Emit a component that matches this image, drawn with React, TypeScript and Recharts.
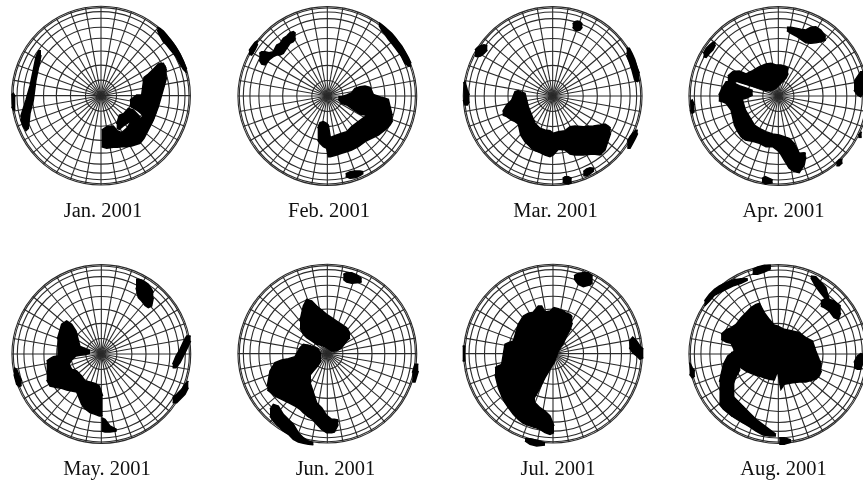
import React from 'react';
import { RadarChart, PolarGrid, ComposedChart, Area, XAxis, YAxis } from 'recharts';

type Sec = [number, number, number];

const panelLabels = ['Jan. 2001', 'Feb. 2001', 'Mar. 2001', 'Apr. 2001', 'May. 2001', 'Jun. 2001', 'Jul. 2001', 'Aug. 2001'];
const panelLeft = [0, 225, 450, 653, 0, 225, 450, 653];
const panelTop = [0, 0, 0, 0, 256, 256, 256, 256];
const gridCenterX = [303, 307, 308, 376, 304, 307, 309, 376];
const gridCenterY = [287, 288, 288, 288, 294, 293, 293, 294];
const labelCenterX = [103, 329, 555.5, 783.5, 107, 335.5, 558, 783.5];
const labelCenterY = [210, 210, 210, 210, 468, 468, 468, 468];
const latitudes = [10, 20, 30, 40, 50, 60, 70, 80, 90];
const meridians = [0, 10, 20, 30, 40, 50, 60, 70, 80, 90, 100, 110, 120, 130, 140, 150, 160, 170, 180, 190, 200, 210, 220, 230, 240, 250, 260, 270, 280, 290, 300, 310, 320, 330, 340, 350];

const jan: Sec[][] = [
  [[62, 350, 358], [70, 325, 380], [78, 300, 392], [85, 275, 385], [90, 258, 340], [100, 210, 300], [108, 170, 240], [116, 152, 200], [123, 152, 165]],
  [[35, 285, 320], [40, 280, 330], [46, 290, 330]],
  [[472, 82, 90], [480, 85, 108], [490, 93, 125], [500, 105, 135], [510, 118, 148], [520, 130, 160], [530, 145, 172], [540, 162, 192], [550, 183, 208], [560, 208, 218]],
  [[305, 390, 440], [320, 380, 445], [340, 378, 442], [352, 392, 442], [365, 398, 440], [380, 385, 440], [395, 362, 438], [420, 358, 430], [432, 345, 415], [445, 300, 390], [460, 270, 360], [475, 240, 320], [485, 220, 285], [495, 200, 250], [500, 212, 232]],
  [[350, 372, 385], [358, 345, 388], [370, 342, 378], [385, 325, 368], [400, 330, 362], [420, 350, 372]],
  [[390, 300, 318], [410, 285, 330], [425, 285, 342], [432, 232, 350], [445, 222, 350], [460, 208, 330], [475, 192, 300], [490, 190, 260], [498, 205, 230]],
];
const feb: Sec[][] = [
  [[72, 152, 162], [80, 140, 165], [90, 127, 150], [98, 122, 132]],
  [[103, 160, 180], [110, 155, 192], [120, 155, 195], [132, 158, 180], [145, 155, 170], [155, 135, 165], [165, 130, 165], [175, 115, 160], [185, 108, 145], [195, 98, 130], [205, 95, 125], [212, 100, 115]],
  [[462, 68, 76], [470, 74, 90], [480, 82, 103], [490, 91, 118], [500, 100, 130], [510, 112, 143], [520, 125, 156], [530, 138, 170], [540, 155, 190], [550, 173, 198], [558, 190, 198]],
  [[362, 522, 530], [375, 515, 535], [390, 513, 533], [405, 513, 527], [415, 515, 520]],
  [[340, 290, 298], [350, 290, 310], [365, 285, 315], [380, 278, 325], [390, 265, 332], [405, 260, 342], [420, 258, 345], [435, 262, 350], [445, 283, 360], [470, 292, 360], [490, 298, 360], [500, 340, 358]],
  [[278, 385, 420], [285, 368, 430], [295, 365, 440], [305, 370, 445], [310, 375, 470], [316, 412, 470], [335, 405, 465], [350, 400, 460], [365, 395, 455], [380, 380, 450], [400, 365, 440], [420, 350, 425], [440, 345, 415], [460, 340, 405], [480, 335, 390], [495, 335, 375], [503, 345, 362]],
];
const mar: Sec[][] = [
  [[368, 72, 82], [375, 65, 90], [382, 63, 92], [390, 65, 90], [397, 72, 82]],
  [[75, 150, 168], [82, 143, 170], [92, 137, 168], [102, 134, 160], [112, 137, 150]],
  [[40, 250, 300], [45, 245, 315], [52, 270, 315], [58, 285, 305]],
  [[530, 145, 165], [538, 145, 185], [546, 160, 210], [554, 178, 240], [562, 205, 245], [568, 220, 240]],
  [[532, 425, 445], [540, 410, 445], [548, 400, 430], [556, 392, 415], [563, 390, 400]],
  [[400, 515, 527], [410, 507, 528], [420, 503, 522], [432, 505, 512]],
  [[338, 535, 547], [345, 530, 550], [355, 530, 552], [365, 535, 548]],
  [[158, 335, 345], [170, 315, 350], [185, 300, 360], [195, 275, 365], [205, 272, 372], [212, 275, 405], [225, 280, 425], [235, 320, 435], [245, 345, 445], [255, 370, 452], [270, 385, 458], [285, 390, 465], [300, 392, 470], [310, 400, 465], [325, 395, 448], [345, 392, 450], [360, 380, 462], [375, 378, 465], [400, 380, 465], [430, 378, 462], [450, 375, 465], [465, 372, 450], [475, 378, 420], [482, 385, 400]],
];
const apr: Sec[][] = [
  [[403, 82, 92], [415, 82, 100], [430, 85, 108], [445, 88, 118], [460, 90, 128], [475, 82, 130], [490, 80, 128], [505, 90, 125], [520, 110, 120]],
  [[152, 160, 170], [160, 145, 172], [170, 135, 160], [180, 127, 150], [188, 128, 135]],
  [[112, 305, 330], [118, 300, 340], [125, 315, 335]],
  [[328, 535, 545], [338, 530, 552], [350, 535, 550], [360, 540, 548]],
  [[605, 245, 270], [615, 230, 285], [625, 215, 290], [632, 215, 280]],
  [[618, 405, 412], [628, 395, 412]],
  [[552, 490, 497], [560, 480, 497], [570, 478, 488]],
  [[225, 228, 255], [240, 215, 250], [250, 214, 243], [260, 213, 247], [280, 222, 253], [300, 212, 259], [320, 200, 265], [340, 192, 272], [355, 190, 272], [370, 195, 265], [385, 195, 250], [400, 200, 235], [407, 205, 220]],
  [[198, 285, 302], [208, 265, 305], [220, 245, 310], [235, 245, 330], [245, 248, 375], [255, 270, 395], [265, 285, 410], [278, 330, 420], [290, 350, 422], [305, 375, 425], [320, 385, 430], [340, 395, 440], [360, 402, 440], [380, 405, 455], [395, 410, 480], [410, 415, 505], [425, 430, 515], [440, 460, 518], [455, 458, 495], [460, 460, 470]],
  [[245, 250, 300], [260, 257, 300], [280, 264, 295], [300, 271, 285]],
];
const may: Sec[][] = [
  [[408, 70, 95], [415, 70, 125], [425, 72, 135], [435, 78, 148], [445, 85, 155], [455, 100, 150], [460, 110, 125]],
  [[518, 325, 335], [528, 300, 335], [540, 280, 320], [550, 258, 300], [560, 240, 280], [572, 240, 255]],
  [[518, 425, 440], [530, 415, 440], [545, 400, 425], [555, 385, 415], [565, 375, 395]],
  [[42, 335, 355], [50, 340, 385], [58, 360, 392], [65, 375, 388]],
  [[305, 485, 525], [315, 490, 528], [330, 510, 528], [350, 520, 525]],
  [[172, 250, 330], [185, 205, 335], [200, 195, 335], [215, 205, 312], [228, 225, 300], [240, 272, 298], [255, 278, 296], [270, 285, 292]],
  [[140, 315, 372], [150, 308, 390], [160, 302, 392], [172, 300, 395], [185, 300, 397], [200, 310, 402], [215, 340, 405], [230, 345, 408], [245, 360, 445], [255, 375, 458], [270, 378, 470], [285, 382, 475], [298, 390, 480], [308, 420, 480]],
];
const jun: Sec[][] = [
  [[355, 55, 70], [365, 50, 78], [380, 50, 82], [395, 57, 80], [410, 68, 78]],
  [[562, 350, 378], [570, 325, 378], [580, 325, 345]],
  [[225, 195, 215], [235, 150, 235], [245, 130, 245], [260, 135, 255], [275, 150, 265], [290, 162, 268], [305, 175, 275], [320, 185, 285], [335, 195, 285], [350, 205, 275], [365, 215, 255], [375, 232, 245]],
  [[127, 390, 402], [135, 345, 408], [150, 320, 420], [170, 312, 430], [190, 308, 440], [210, 302, 450], [225, 275, 460], [235, 265, 470], [250, 268, 482], [258, 270, 485]],
  [[245, 268, 370], [265, 272, 345], [278, 278, 330], [288, 295, 315]],
  [[245, 350, 478], [262, 400, 490], [275, 440, 505], [290, 455, 520], [305, 478, 530], [320, 490, 530], [328, 490, 528], [340, 492, 505]],
  [[135, 460, 480], [145, 445, 495], [160, 450, 510], [175, 475, 525], [190, 490, 535], [205, 505, 550], [220, 530, 558], [235, 545, 562], [250, 555, 565], [265, 560, 566]],
];
const jul: Sec[][] = [
  [[372, 60, 68], [385, 52, 85], [400, 50, 92], [415, 50, 88], [428, 60, 82]],
  [[538, 255, 275], [548, 243, 290], [560, 255, 300], [570, 270, 310], [580, 280, 305]],
  [[38, 270, 315], [46, 270, 315]],
  [[225, 548, 555], [240, 548, 565], [260, 553, 570], [285, 560, 567]],
  [[135, 335, 355], [145, 330, 395], [155, 325, 420], [165, 265, 440], [175, 260, 455], [190, 255, 475], [205, 205, 490], [220, 180, 502], [235, 172, 508], [255, 168, 515]],
  [[250, 168, 430], [265, 150, 405], [275, 150, 385], [285, 168, 365], [300, 165, 340], [312, 155, 320], [325, 158, 285], [340, 165, 262], [350, 172, 240], [360, 175, 222], [367, 182, 200]],
  [[250, 435, 512], [270, 455, 520], [285, 465, 530], [300, 480, 535], [312, 510, 530]],
];
const aug: Sec[][] = [
  [[300, 40, 55], [315, 33, 55], [335, 28, 48], [355, 28, 38]],
  [[155, 135, 150], [170, 115, 135], [185, 100, 118], [200, 90, 110], [220, 80, 100], [240, 72, 90], [265, 68, 82], [285, 68, 72]],
  [[475, 60, 65], [490, 62, 92], [505, 78, 112], [520, 95, 130], [530, 130, 165], [545, 135, 185], [558, 145, 190], [565, 150, 170]],
  [[505, 135, 150], [515, 130, 155], [530, 130, 165]],
  [[110, 320, 355], [118, 335, 365], [126, 345, 360]],
  [[605, 320, 335], [615, 300, 340], [625, 293, 340], [632, 295, 320]],
  [[380, 545, 565], [395, 545, 565], [415, 552, 558]],
  [[205, 235, 250], [220, 222, 258], [235, 215, 262], [250, 205, 292], [265, 185, 335], [280, 170, 345], [295, 155, 352], [310, 145, 358], [320, 142, 360], [335, 170, 365], [350, 190, 370], [365, 208, 372], [375, 210, 345], [385, 215, 400], [395, 220, 385], [420, 225, 380], [440, 230, 378], [460, 245, 378], [480, 255, 372], [490, 285, 370], [500, 310, 360], [507, 325, 345]],
  [[200, 378, 445], [212, 325, 460], [225, 300, 470], [238, 290, 480], [245, 290, 482]],
  [[235, 290, 400], [250, 285, 362], [262, 300, 340]],
  [[235, 415, 478], [255, 435, 490], [270, 450, 500], [290, 470, 512], [310, 490, 525], [330, 505, 536], [350, 520, 540], [370, 535, 540]],
];

const panelBlobs = [jan, feb, mar, apr, may, jun, jul, aug];

const PANEL_W = 210;
const PANEL_H = 225;
const RADIUS = 89.4;

function buildRows(blobs: Sec[][]) {
  const rows = new Map<number, Record<string, unknown>>();
  blobs.forEach((blob, i) => {
    blob.forEach(([x, top, bottom]) => {
      const row = rows.get(x) ?? { x };
      row[`b${i}`] = [top, bottom];
      rows.set(x, row);
    });
  });
  return [...rows.values()].sort((a, b) => (a.x as number) - (b.x as number));
}

function Panel({ index }: { index: number }) {
  const cx = gridCenterX[index] / 3;
  const cy = gridCenterY[index] / 3;
  const blobs = panelBlobs[index];
  const rows = buildRows(blobs);
  const rings = latitudes.map((d) => RADIUS * Math.sin((d * Math.PI) / 180));
  return (
    <div style={{ position: 'absolute', left: panelLeft[index], top: panelTop[index], width: PANEL_W, height: PANEL_H }}>
      <div style={{ position: 'absolute', left: 0, top: 0 }}>
        <RadarChart width={PANEL_W} height={PANEL_H} margin={{ top: 0, right: 0, bottom: 0, left: 0 }} data={[{ v: 0 }, { v: 1 }, { v: 2 }]} cx={cx} cy={cy} innerRadius={0} outerRadius={RADIUS}>
          <PolarGrid gridType="circle" cx={cx} cy={cy} innerRadius={0} outerRadius={RADIUS} polarRadius={rings} polarAngles={meridians} stroke="#2a2a2a" strokeWidth={1.1} />
        </RadarChart>
      </div>
      <div style={{ position: 'absolute', left: 0, top: 0 }}>
        <ComposedChart width={PANEL_W} height={PANEL_H} margin={{ top: 0, right: 0, bottom: 0, left: 0 }} data={rows}>
          <XAxis type="number" dataKey="x" domain={[0, 630]} hide />
          <YAxis type="number" domain={[0, 675]} reversed hide />
          {blobs.map((_, i) => (
            <Area key={i} type="linear" dataKey={`b${i}`} stroke="#000" strokeWidth={1.5} fill="#000" fillOpacity={1} connectNulls dot={false} activeDot={false} isAnimationActive={false} />
          ))}
        </ComposedChart>
      </div>
    </div>
  );
}

export default function App() {
  return (
    <div style={{ position: 'absolute', left: 0, top: 0, width: 863, height: 481, background: '#fff', overflow: 'hidden', filter: 'blur(0.35px)' }}>
      {panelLabels.map((_, i) => (
        <Panel key={i} index={i} />
      ))}
      {panelLabels.map((label, i) => (
        <div key={label} style={{ position: 'absolute', left: labelCenterX[i] - 60, top: labelCenterY[i] - 12, width: 120, height: 24, lineHeight: '24px', textAlign: 'center', fontFamily: '"Liberation Serif", serif', fontSize: 20.5, color: '#111' }}>
          {label}
        </div>
      ))}
    </div>
  );
}
